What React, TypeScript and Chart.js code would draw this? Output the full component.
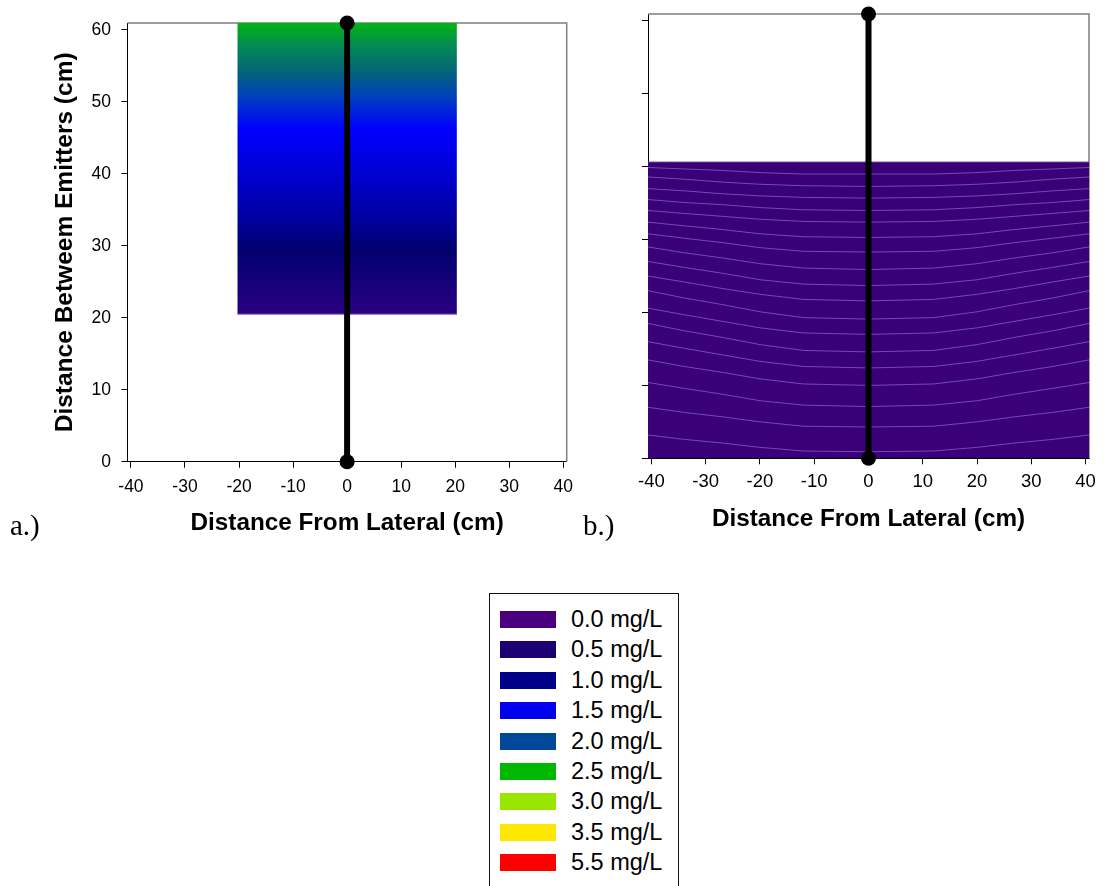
import React, { useEffect, useRef } from 'react';
import { Chart, registerables } from 'chart.js';

Chart.register(...registerables);

const SANS = "'Liberation Sans', Arial, Helvetica, sans-serif";
const SERIF = "'Liberation Serif', 'Times New Roman', serif";

// axes
const xTicks = [-40, -30, -20, -10, 0, 10, 20, 30, 40];
const yTicks = [0, 10, 20, 30, 40, 50, 60];
const xMin = -40.64;
const xMax = 40.64;
const yMin = 0;
const yMax = 60.96;
const xTitle = 'Distance From Lateral (cm)';
const yTitle = 'Distance Betweem Emitters (cm)';

// lateral / emitter stem (both panels)
const stemX = [0, 0];
const stemY = [0, 60.96];

// panel a: concentration band
const bandX = [-20.32, 20.32];
const bandTop = [60.96, 60.96];
const bandBottom = 20.5;
const bandStopY = [20.5, 25.0, 29.8, 33.4, 38.9, 46.2, 50.6, 54.2, 57.5, 60.96];
const bandStopColor = ['#2a0080', '#16007a', '#000070', '#00009c', '#0000c8', '#0000ff', '#003fc0', '#046478', '#03875a', '#00b414'];

// panel b: wetted (0.0 mg/L) region and contour lines
const fillX = [-40.64, 40.64];
const fillTop = [40.64, 40.64];
const contourX = [-40.64, -34, -27, -20, -12, 0, 12, 20, 27, 34, 40.64];
const contourY = [
  [39.9, 39.7, 39.5, 39.2, 39.0, 39.0, 39.0, 39.2, 39.5, 39.7, 39.9],
  [38.6, 38.3, 37.9, 37.6, 37.4, 37.3, 37.4, 37.6, 37.9, 38.3, 38.6],
  [37.0, 36.7, 36.3, 36.0, 35.8, 35.7, 35.8, 36.0, 36.3, 36.7, 37.0],
  [35.5, 35.1, 34.8, 34.4, 34.1, 34.0, 34.1, 34.4, 34.8, 35.1, 35.5],
  [34.0, 33.6, 33.2, 32.8, 32.5, 32.4, 32.5, 32.8, 33.2, 33.6, 34.0],
  [32.4, 31.9, 31.4, 30.8, 30.4, 30.3, 30.4, 30.8, 31.4, 31.9, 32.4],
  [30.8, 30.2, 29.6, 28.9, 28.4, 28.3, 28.4, 28.9, 29.6, 30.2, 30.8],
  [29.0, 28.2, 27.5, 26.7, 26.1, 25.9, 26.1, 26.7, 27.5, 28.2, 29.0],
  [27.0, 26.2, 25.4, 24.5, 23.9, 23.7, 23.9, 24.5, 25.4, 26.2, 27.0],
  [25.0, 24.2, 23.3, 22.5, 21.8, 21.6, 21.8, 22.5, 23.3, 24.2, 25.0],
  [23.0, 22.0, 21.1, 20.1, 19.3, 19.1, 19.3, 20.1, 21.1, 22.0, 23.0],
  [20.6, 19.7, 18.8, 17.9, 17.2, 17.0, 17.2, 17.9, 18.8, 19.7, 20.6],
  [18.5, 17.5, 16.6, 15.6, 14.8, 14.6, 14.8, 15.6, 16.6, 17.5, 18.5],
  [16.0, 15.1, 14.2, 13.3, 12.6, 12.4, 12.6, 13.3, 14.2, 15.1, 16.0],
  [13.5, 12.6, 11.8, 10.9, 10.2, 10.0, 10.2, 10.9, 11.8, 12.6, 13.5],
  [10.4, 9.6, 8.8, 7.9, 7.3, 7.1, 7.3, 7.9, 8.8, 9.6, 10.4],
  [7.0, 6.3, 5.7, 5.0, 4.4, 4.3, 4.4, 5.0, 5.7, 6.3, 7.0],
  [3.2, 2.6, 2.1, 1.5, 1.0, 0.9, 1.0, 1.5, 2.1, 2.6, 3.2],
];

// legend
const legendLabels = ['0.0 mg/L', '0.5 mg/L', '1.0 mg/L', '1.5 mg/L', '2.0 mg/L', '2.5 mg/L', '3.0 mg/L', '3.5 mg/L', '5.5 mg/L'];
const legendColors = ['#48007e', '#1c0074', '#000088', '#0000ee', '#00489a', '#00b800', '#99e600', '#ffe800', '#ff0000'];

const FILL_PURPLE = '#3a0078';

const pts = (xs: number[], ys: number[]) => xs.map((x, i) => ({ x, y: ys[i] }));

const framePlugin = {
  id: 'frame',
  beforeDatasetsDraw(chart: any) {
    const { ctx, chartArea: a } = chart;
    ctx.save();
    ctx.strokeStyle = '#7f7f7f';
    ctx.lineWidth = 1.5;
    ctx.beginPath();
    ctx.moveTo(a.left, a.top);
    ctx.lineTo(a.right, a.top);
    ctx.lineTo(a.right, a.bottom);
    ctx.stroke();
    ctx.restore();
  },
};

const panelLabel = (text: string, x: number, y: number) => ({
  id: 'panelLabel',
  afterDraw(chart: any) {
    const ctx = chart.ctx;
    ctx.save();
    ctx.font = `29px ${SERIF}`;
    ctx.fillStyle = '#000';
    ctx.textBaseline = 'alphabetic';
    ctx.textAlign = 'left';
    ctx.fillText(text, x, y);
    ctx.restore();
  },
});

function makeScales(o: any) {
  return {
    x: {
      type: 'linear',
      min: xMin,
      max: xMax,
      afterBuildTicks: (s: any) => { s.ticks = xTicks.map((v) => ({ value: v })); },
      afterFit: (s: any) => { s.height = o.xHeight; s.paddingLeft = 0; s.paddingRight = 0; },
      grid: { drawOnChartArea: false, drawTicks: true, tickLength: 6, tickColor: '#000', lineWidth: 1 },
      border: { display: true, color: '#000', width: 1 },
      ticks: { font: { size: o.tickSize, family: SANS }, color: '#000', padding: o.xTickPad, maxRotation: 0, autoSkip: false },
      title: { display: true, text: xTitle, color: '#000', font: { size: 24.3, weight: 'bold', family: SANS }, padding: { top: 0, bottom: o.xTitlePad } },
    },
    y: {
      type: 'linear',
      min: yMin,
      max: yMax,
      afterBuildTicks: (s: any) => { s.ticks = yTicks.map((v) => ({ value: v })); },
      afterFit: (s: any) => { s.width = o.yWidth; s.paddingTop = 0; s.paddingBottom = 0; },
      grid: { drawOnChartArea: false, drawTicks: true, tickLength: 6, tickColor: '#000', lineWidth: 1 },
      border: { display: true, color: '#000', width: 1 },
      ticks: {
        font: { size: o.tickSize, family: SANS }, color: '#000', padding: 10.5, autoSkip: false,
        callback: (v: any) => (o.yLabels ? String(v) : ''),
      },
      title: { display: o.yTitle, text: yTitle, color: '#000', font: { size: 24.5, weight: 'bold', family: SANS }, padding: { top: 50.7, bottom: 0 } },
    },
  };
}

const stemDataset = () => ({
  data: pts(stemX, stemY),
  borderColor: '#000',
  borderWidth: 6,
  pointRadius: 7.5,
  pointBackgroundColor: '#000',
  pointBorderWidth: 0,
  fill: false,
  clip: false,
});

function LeftChart() {
  const ref = useRef<HTMLCanvasElement>(null);
  useEffect(() => {
    const bandGradient = (c: any) => {
      const chart = c.chart;
      const y = chart.scales && chart.scales.y;
      if (!chart.chartArea || !y) return bandStopColor[0];
      const y0 = y.getPixelForValue(bandBottom);
      const y1 = y.getPixelForValue(yMax);
      const g = chart.ctx.createLinearGradient(0, y0, 0, y1);
      bandStopY.forEach((v, i) => {
        g.addColorStop((v - bandBottom) / (yMax - bandBottom), bandStopColor[i]);
      });
      return g;
    };
    const chart = new Chart(ref.current as HTMLCanvasElement, {
      type: 'line',
      data: {
        datasets: [
          stemDataset(),
          {
            data: pts(bandX, [bandBottom, bandBottom]),
            borderColor: '#7b68c0',
            borderWidth: 1,
            pointRadius: 0,
            fill: false,
          },
          {
            data: pts(bandX, bandTop),
            borderColor: 'rgba(0,0,0,0)',
            borderWidth: 0,
            pointRadius: 0,
            fill: { value: bandBottom },
            backgroundColor: bandGradient,
          },
        ],
      } as any,
      options: {
        animation: false,
        responsive: false,
        maintainAspectRatio: false,
        events: [],
        layout: { autoPadding: false, padding: { top: 23, right: 13.3, left: 0, bottom: 0 } },
        plugins: { legend: { display: false }, tooltip: { enabled: false } },
        scales: makeScales({ xHeight: 98.3, yWidth: 127.5, tickSize: 17.5, xTickPad: 9, xTitlePad: 22.4, yLabels: true, yTitle: true }),
      } as any,
      plugins: [framePlugin, panelLabel('a.)', 10, 535)],
    });
    return () => chart.destroy();
  }, []);
  return <canvas ref={ref} width={580} height={560} style={{ position: 'absolute', left: 0, top: 0, width: 580, height: 560 }} />;
}

function RightChart() {
  const ref = useRef<HTMLCanvasElement>(null);
  useEffect(() => {
    const contours = contourY.map((ys) => ({
      data: pts(contourX, ys),
      borderColor: 'rgba(150,118,215,0.62)',
      borderWidth: 1,
      pointRadius: 0,
      fill: false,
    }));
    const chart = new Chart(ref.current as HTMLCanvasElement, {
      type: 'line',
      data: {
        datasets: [
          stemDataset(),
          ...contours,
          {
            data: pts(fillX, fillTop),
            borderColor: '#5c3c9c',
            borderWidth: 1,
            pointRadius: 0,
            fill: { value: 0 },
            backgroundColor: FILL_PURPLE,
          },
        ],
      } as any,
      options: {
        animation: false,
        responsive: false,
        maintainAspectRatio: false,
        events: [],
        layout: { autoPadding: false, padding: { top: 14, right: 15, left: 0, bottom: 0 } },
        plugins: { legend: { display: false }, tooltip: { enabled: false } },
        scales: makeScales({ xHeight: 101.7, yWidth: 68, tickSize: 18.5, xTickPad: 6.5, xTitlePad: 26.4, yLabels: false, yTitle: false }),
      } as any,
      plugins: [framePlugin, panelLabel('b.)', 3, 535)],
    });
    return () => chart.destroy();
  }, []);
  return <canvas ref={ref} width={524} height={560} style={{ position: 'absolute', left: 580, top: 0, width: 524, height: 560 }} />;
}

function Legend() {
  return (
    <div style={{ position: 'absolute', left: 489, top: 593, width: 188, height: 320, border: '1px solid #111', background: '#fff' }}>
      {legendLabels.map((lab, i) => (
        <div key={lab} style={{ position: 'absolute', left: 0, top: 17 + i * 30.4, height: 17, width: 188 }}>
          <div style={{ position: 'absolute', left: 9.5, top: 0, width: 56, height: 17, background: legendColors[i] }} />
          <span style={{ position: 'absolute', left: 81, top: 0, fontFamily: SANS, fontSize: 23.5, lineHeight: '17px', color: '#000', whiteSpace: 'nowrap' }}>{lab}</span>
        </div>
      ))}
    </div>
  );
}

export default function App() {
  return (
    <div style={{ position: 'absolute', left: 0, top: 0, width: 1104, height: 886, overflow: 'hidden', background: '#fff' }}>
      <LeftChart />
      <RightChart />
      <Legend />
    </div>
  );
}
